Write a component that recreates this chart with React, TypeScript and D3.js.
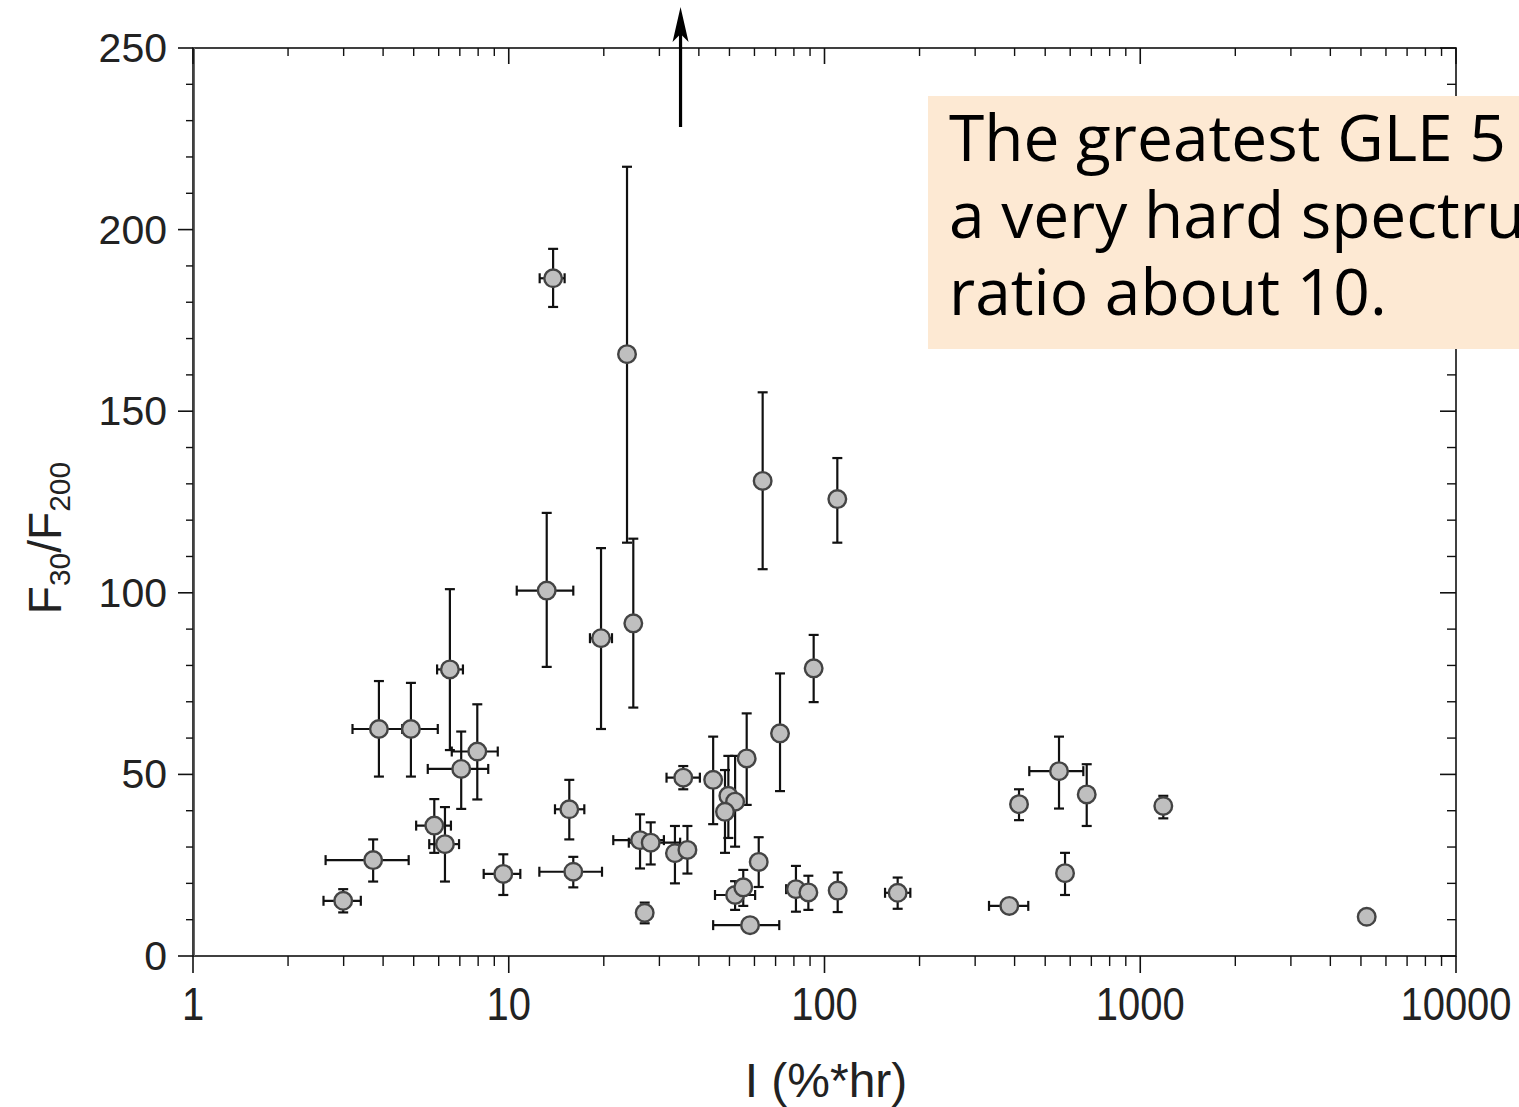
import React from "react";
import * as d3 from "d3";

// ---- data ----
const xVals = [2.99, 3.72, 3.88, 4.90, 5.81, 6.28, 6.51, 7.07, 7.95, 9.61, 13.19, 13.82, 15.55, 16.01, 19.60, 23.69, 24.80, 26.05, 28.16, 26.95, 33.6, 36.8, 35.7, 44.4, 49.6, 52.1, 48.4, 56.7, 52.1, 55.3, 58.1, 61.9, 63.7, 72.3, 81.2, 88.9, 92.4, 109.8, 110.1, 170.5, 384.8, 413.1, 553.0, 577.8, 676.8, 1183, 5214];
const yVals = [15.2, 26.4, 62.5, 62.5, 35.9, 30.8, 78.9, 51.5, 56.3, 22.6, 100.6, 186.6, 40.4, 23.2, 87.5, 165.7, 91.6, 31.9, 31.2, 11.9, 28.3, 29.2, 49.1, 48.5, 44.1, 42.5, 39.7, 54.4, 16.8, 18.9, 8.5, 25.9, 130.8, 61.3, 18.4, 17.5, 79.2, 125.8, 18.0, 17.4, 13.8, 41.8, 50.9, 22.8, 44.5, 41.3, 10.8];
const xLow = [2.59, 2.63, 3.20, 3.91, 5.09, 5.60, 5.93, 5.54, 6.60, 8.33, 10.60, 12.53, 14.01, 12.50, 18.08, 22.9, 24.80, 21.43, 24.0, 25.6, 33.6, 34.6, 31.6, 44.4, 49.6, 52.1, 48.4, 56.7, 45.0, 55.3, 44.4, 61.9, 63.7, 72.3, 75.6, 86, 92.4, 109.8, 105, 155.5, 331.9, 400, 445.2, 565, 655, 1170, 5050];
const xHigh = [3.40, 4.82, 4.60, 5.96, 6.56, 6.96, 7.16, 8.61, 9.23, 10.88, 16.01, 15.03, 17.35, 19.74, 21.23, 24.4, 24.80, 31.0, 34.9, 28.4, 33.6, 38.9, 40.3, 44.4, 49.6, 52.1, 48.4, 56.7, 60.3, 55.3, 71.9, 61.9, 63.7, 72.3, 87.0, 92, 92.4, 109.8, 115, 187.0, 441.9, 426, 660.2, 590, 700, 1196, 5380];
const yLow = [12.0, 20.5, 49.4, 49.4, 28.4, 20.5, 56.7, 40.5, 43.1, 16.8, 79.6, 178.7, 32.1, 18.9, 62.5, 113.8, 68.4, 24.1, 25.2, 9.0, 20.0, 22.7, 45.9, 36.3, 32.5, 30.1, 28.4, 41.6, 12.7, 13.8, 8.5, 19.0, 106.5, 45.4, 12.2, 12.7, 69.9, 113.8, 12.1, 13.0, 12.4, 37.4, 40.6, 16.8, 35.8, 37.9, 9.8];
const yHigh = [18.4, 32.1, 75.7, 75.2, 43.2, 41.0, 101.0, 61.8, 69.3, 28.0, 122.0, 194.7, 48.5, 27.3, 112.3, 217.3, 114.9, 39.0, 36.8, 14.7, 35.8, 35.8, 52.3, 60.4, 55.1, 55.1, 51.2, 66.8, 20.6, 23.7, 8.5, 32.7, 155.2, 77.8, 24.8, 22.1, 88.4, 137.1, 23.0, 21.6, 15.4, 45.9, 60.4, 28.4, 52.8, 44.1, 11.8];

const xTickLabels = ["1", "10", "100", "1000", "10000"];
const xTickValues = [1, 10, 100, 1000, 10000];
const yTickValues = [0, 50, 100, 150, 200, 250];
const arrowX = 35; // off-scale event marked by an arrow
const noteLines = ["The greatest GLE 5 has", "a very hard spectrum", "ratio about 10."];

const W = 1519;
const H = 1107;
const M = { left: 193, right: 1456, top: 48, bottom: 956 };

export default function App() {
  const x = d3.scaleLog().domain([1, 10000]).range([M.left, M.right]);
  const y = d3.scaleLinear().domain([0, 250]).range([M.bottom, M.top]);

  const xMinor = x.ticks().filter((v) => !xTickValues.includes(v));
  const yMinor = d3.range(0, 251, 10).filter((v) => v % 50 !== 0);

  const cap = 5;
  const ax = "#111";
  const tf = "'Liberation Sans', Arial, sans-serif";
  const axX = x(arrowX);

  return (
    <svg
      width={W}
      height={H}
      style={{ position: "absolute", left: 0, top: 0, background: "#fff" }}
    >
      <rect x={0} y={0} width={W} height={H} fill="#fff" />

      {/* frame */}
      <rect
        x={M.left}
        y={M.top}
        width={M.right - M.left}
        height={M.bottom - M.top}
        fill="none"
        stroke={ax}
        strokeWidth={1.6}
      />
      <line x1={M.left + 1.5} x2={M.left + 1.5} y1={M.top} y2={M.bottom} stroke="#666" strokeWidth={1} />

      {/* bottom ticks (outward) & top ticks (inward) */}
      {xTickValues.map((v) => (
        <g key={"xM" + v}>
          <line x1={x(v)} x2={x(v)} y1={M.bottom} y2={M.bottom + 17} stroke={ax} strokeWidth={1.6} />
          <line x1={x(v)} x2={x(v)} y1={M.top} y2={M.top + 16} stroke={ax} strokeWidth={1.6} />
        </g>
      ))}
      {xMinor.map((v) => (
        <g key={"xm" + v}>
          <line x1={x(v)} x2={x(v)} y1={M.bottom} y2={M.bottom + 10} stroke={ax} strokeWidth={1.4} />
          <line x1={x(v)} x2={x(v)} y1={M.top} y2={M.top + 8} stroke={ax} strokeWidth={1.4} />
        </g>
      ))}

      {/* left ticks (outward) & right ticks (inward) */}
      {yTickValues.map((v) => (
        <g key={"yM" + v}>
          <line x1={M.left - 15} x2={M.left} y1={y(v)} y2={y(v)} stroke={ax} strokeWidth={1.6} />
          <line x1={M.right - 16} x2={M.right} y1={y(v)} y2={y(v)} stroke={ax} strokeWidth={1.6} />
        </g>
      ))}
      {yMinor.map((v) => (
        <g key={"ym" + v}>
          <line x1={M.left - 7} x2={M.left} y1={y(v)} y2={y(v)} stroke={ax} strokeWidth={1.4} />
          <line x1={M.right - 9} x2={M.right} y1={y(v)} y2={y(v)} stroke={ax} strokeWidth={1.4} />
        </g>
      ))}

      {/* tick labels */}
      {yTickValues.map((v) => (
        <text
          key={"yl" + v}
          x={167}
          y={y(v) + 14}
          textAnchor="end"
          fontFamily={tf}
          fontSize={41}
          fill="#222"
        >
          {String(v)}
        </text>
      ))}
      {xTickValues.map((v, i) => (
        <text
          key={"xl" + v}
          transform={`translate(${x(v)},${1020}) scale(0.85,1)`}
          textAnchor="middle"
          fontFamily={tf}
          fontSize={47}
          fill="#222"
        >
          {xTickLabels[i]}
        </text>
      ))}

      {/* axis titles */}
      <text x={826} y={1097} textAnchor="middle" fontFamily={tf} fontSize={48} fill="#222">
        I (%*hr)
      </text>
      <text
        transform={`translate(61,${538}) rotate(-90)`}
        textAnchor="middle"
        fontFamily={tf}
        fontSize={46}
        fill="#222"
      >
        F<tspan fontSize={30} dy={9}>30</tspan>
        <tspan dy={-9}>/F</tspan>
        <tspan fontSize={30} dy={9}>200</tspan>
      </text>

      {/* error bars */}
      {xVals.map((xv, i) => {
        const cx = x(xv);
        const cy = y(yVals[i]);
        const y0 = y(yLow[i]);
        const y1 = y(yHigh[i]);
        const x0 = x(xLow[i]);
        const x1 = x(xHigh[i]);
        return (
          <g key={"e" + i} stroke="#111" strokeWidth={2.2}>
            {y0 - y1 > 1 && (
              <>
                <line x1={cx} x2={cx} y1={y0} y2={y1} />
                <line x1={cx - cap} x2={cx + cap} y1={y0} y2={y0} />
                <line x1={cx - cap} x2={cx + cap} y1={y1} y2={y1} />
              </>
            )}
            {x1 - x0 > 1 && (
              <>
                <line x1={x0} x2={x1} y1={cy} y2={cy} />
                <line x1={x0} x2={x0} y1={cy - cap} y2={cy + cap} />
                <line x1={x1} x2={x1} y1={cy - cap} y2={cy + cap} />
              </>
            )}
          </g>
        );
      })}

      {/* markers */}
      {xVals.map((xv, i) => (
        <circle
          key={"c" + i}
          cx={x(xv)}
          cy={y(yVals[i])}
          r={8.8}
          fill="#bfbfbf"
          stroke="#444"
          strokeWidth={2.4}
        />
      ))}

      {/* arrow */}
      <line x1={axX} x2={axX} y1={127} y2={24} stroke="#000" strokeWidth={3.2} />
      <path
        d={`M${axX},7 L${axX - 8},42 L${axX},34 L${axX + 8},42 Z`}
        fill="#000"
      />

      {/* annotation box */}
      <rect x={928} y={96} width={W - 928 + 20} height={253} fill="#FDE9D3" />
      {noteLines.map((t, i) => (
        <text
          key={"n" + i}
          x={949}
          y={161 + i * 77}
          fontFamily="'Open Sans', sans-serif"
          fontSize={64}
          fill="#000"
        >
          {t}
        </text>
      ))}
    </svg>
  );
}
